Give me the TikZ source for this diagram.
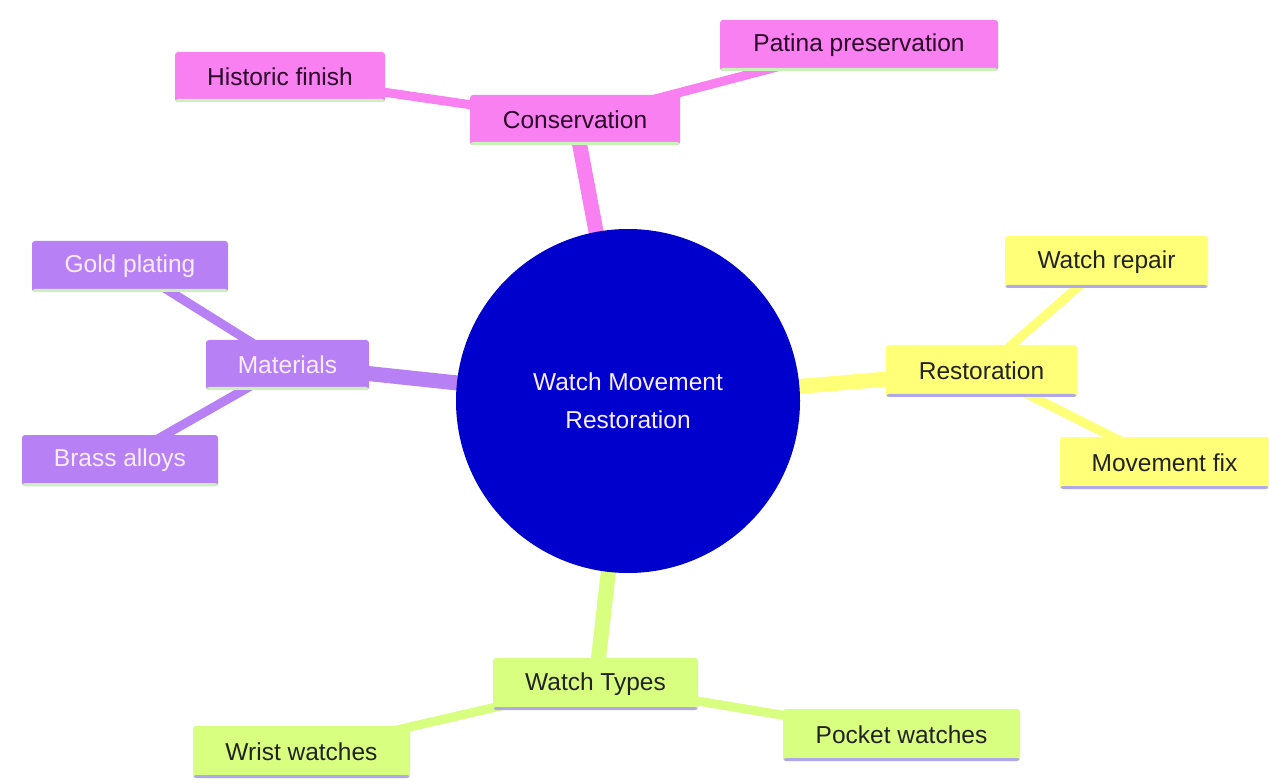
\documentclass[tikz,border=0pt]{standalone}
\usepackage{fontspec}
\setmainfont{Liberation Sans}
\definecolor{cpink}{HTML}{F880F0}
\definecolor{cpurple}{HTML}{B880F5}
\definecolor{cyellow}{HTML}{FFFF78}
\definecolor{cgreen}{HTML}{D9FF80}
\definecolor{cblue}{HTML}{0000CD}
\definecolor{lgreen}{HTML}{C8F2B8}
\definecolor{llav}{HTML}{B0A8E8}
\definecolor{tpink}{HTML}{2A0628}
\definecolor{tpurple}{HTML}{F8ECFF}
\definecolor{tdark}{HTML}{222222}
\pgfdeclarelayer{bg}\pgfsetlayers{bg,main}
\tikzset{
  box/.style n args={3}{rectangle, rounded corners=3pt, fill=#1, text=#3, inner sep=0pt,
    font=\fontsize{24.5}{28}\selectfont, minimum height=50pt,
    path picture={\fill[#2] ([yshift=-1pt]path picture bounding box.south west) rectangle ([yshift=3pt]path picture bounding box.south east);}},
  pinkbox/.style={box={cpink}{lgreen}{tpink}},
  purplebox/.style={box={cpurple}{lgreen}{tpurple}},
  yellowbox/.style={box={cyellow}{llav}{tdark}},
  greenbox/.style={box={cgreen}{llav}{tdark}},
  rootedge/.style={line width=15pt},
  leafedge/.style={line width=9pt},
}
\begin{document}
\begin{tikzpicture}[x=1pt,y=-1pt]
\useasboundingbox (0,0) rectangle (1269,783);
% nodes
\node[circle, fill=cblue, minimum size=344pt, inner sep=0pt, text=tpurple, align=center,
  font=\fontsize{24.5}{38}\selectfont] (root) at (628,401) {Watch Movement\\Restoration};
\node[pinkbox, minimum width=210pt] (cons) at (575,120) {Conservation};
\node[pinkbox, minimum width=210pt] (hist) at (280,77) {Historic finish};
\node[pinkbox, minimum width=278pt, minimum height=51pt] (pat) at (859,45.5) {Patina preservation};
\node[purplebox, minimum width=163pt] (mat) at (287.5,365) {Materials};
\node[purplebox, minimum width=196pt, minimum height=51pt] (gold) at (130,266.5) {Gold plating};
\node[purplebox, minimum width=196pt, minimum height=51pt] (brass) at (120,460.5) {Brass alloys};
\node[yellowbox, minimum width=191pt, minimum height=52pt] (rest) at (981.5,371) {Restoration};
\node[yellowbox, minimum width=203pt, minimum height=52pt] (rep) at (1106.5,262) {Watch repair};
\node[yellowbox, minimum width=209pt, minimum height=52pt] (mov) at (1164.5,463) {Movement fix};
\node[greenbox, minimum width=205pt, minimum height=52pt] (types) at (595.5,684) {Watch Types};
\node[greenbox, minimum width=217pt, minimum height=52pt] (wrist) at (301.5,752) {Wrist watches};
\node[greenbox, minimum width=237pt, minimum height=52pt] (pock) at (901.5,735) {Pocket watches};
% edges behind
\begin{pgfonlayer}{bg}
\fill[white] (0,0) rectangle (1269,783);
\draw[rootedge, cpink] (root.center) -- (cons.center);
\draw[rootedge, cpurple] (root.center) -- (mat.center);
\draw[rootedge, cyellow] (root.center) -- (rest.center);
\draw[rootedge, cgreen] (root.center) -- (types.center);
\draw[leafedge, cpink] (cons.center) -- (hist.center);
\draw[leafedge, cpink] (cons.center) -- (pat.center);
\draw[leafedge, cpurple] (mat.center) -- (gold.center);
\draw[leafedge, cpurple] (mat.center) -- (brass.center);
\draw[leafedge, cyellow] (rest.center) -- (rep.center);
\draw[leafedge, cyellow] (rest.center) -- (mov.center);
\draw[leafedge, cgreen] (types.center) -- (wrist.center);
\draw[leafedge, cgreen] (types.center) -- (pock.center);
\end{pgfonlayer}
\end{tikzpicture}
\end{document}
